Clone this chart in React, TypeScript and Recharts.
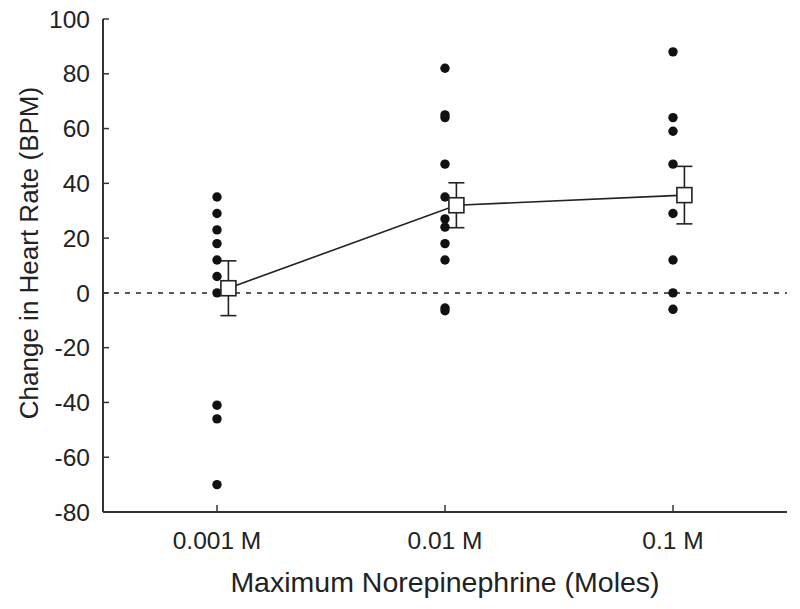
import React from 'react';
import { ComposedChart, Scatter, XAxis, YAxis, ReferenceLine, ErrorBar } from 'recharts';

const categories = ['0.001 M', '0.01 M', '0.1 M'];
const yTicks = [-80, -60, -40, -20, 0, 20, 40, 60, 80, 100];

const dots001 = [35, 29, 23, 18, 12, 6, 0, -41, -46, -70];
const dots01 = [82, 65, 64, 47, 35, 27, 24, 18, 12, -5.5, -6.5];
const dots1 = [88, 64, 59, 47, 29, 12, 0, -6];

const means = [1.7, 32, 35.7];
const sems = [10, 8.2, 10.5];

const MEAN_SHIFT = 0.05;

const rawGroups = [dots001, dots01, dots1];
const dotData = rawGroups.flatMap((g, i) => g.map((v) => ({ x: i + 1, y: v })));
const meanData = means.map((m, i) => ({ x: i + 1 + MEAN_SHIFT, y: m, err: sems[i] }));

const FONT = '"Liberation Sans", Arial, sans-serif';
const INK = '#222';

const Dot = (props: any) => <circle cx={props.cx} cy={props.cy} r={4.7} fill="#111" />;
const Square = (props: any) => (
  <rect x={props.cx - 7.5} y={props.cy - 7.5} width={15} height={15} fill="#fff" stroke={INK} strokeWidth={1.6} />
);
const Nothing = () => null;

const YLabel = (props: any) => {
  const vb = props.viewBox || { x: 0, y: 19, width: 103, height: 493 };
  const cx = 38;
  const cy = vb.y + vb.height / 2 - 12.5;
  return (
    <text x={cx} y={cy} transform={`rotate(-90, ${cx}, ${cy})`} textAnchor="middle"
      fontFamily={FONT} fontSize={26} fill={INK}>
      Change in Heart Rate (BPM)
    </text>
  );
};

export default function App() {
  return (
    <div style={{ position: 'absolute', left: 0, top: 0, width: 800, height: 609, background: '#fff' }}>
      <ComposedChart width={800} height={609} margin={{ top: 19, right: 13, left: 0, bottom: 0 }}>
        <XAxis
          type="number"
          dataKey="x"
          domain={[0.5, 3.5]}
          ticks={[1, 2, 3]}
          tickFormatter={(v: number) => categories[v - 1]}
          height={97}
          axisLine={{ stroke: '#333', strokeWidth: 2 }}
          tickLine={{ stroke: '#333', strokeWidth: 1.5 }}
          tickSize={-7}
          tickMargin={27}
          tick={{ fontFamily: FONT, fontSize: 24.5, fill: INK }}
          allowDataOverflow
          label={{ value: 'Maximum Norepinephrine (Moles)', position: 'insideBottom', offset: 17, fontFamily: FONT, fontSize: 28.5, fill: INK }}
        />
        <YAxis
          type="number"
          dataKey="y"
          domain={[-80, 100]}
          ticks={yTicks}
          width={103}
          axisLine={{ stroke: '#333', strokeWidth: 2 }}
          tickLine={{ stroke: '#333', strokeWidth: 1.5 }}
          tickSize={-6}
          tickMargin={19}
          tick={{ fontFamily: FONT, fontSize: 24.5, fill: INK }}
          allowDataOverflow
          label={{ content: YLabel }}
        />
        <ReferenceLine y={0} stroke={INK} strokeWidth={1.5} strokeDasharray="5 6" />
        <Scatter data={dotData} shape={Dot} isAnimationActive={false} />
        <Scatter data={meanData} shape={Square} line={{ stroke: INK, strokeWidth: 1.6 }} isAnimationActive={false} />
        <Scatter data={meanData} shape={Nothing} isAnimationActive={false}>
          <ErrorBar dataKey="err" direction="y" width={8} stroke={INK} strokeWidth={1.6} isAnimationActive={false} />
        </Scatter>
      </ComposedChart>
    </div>
  );
}
